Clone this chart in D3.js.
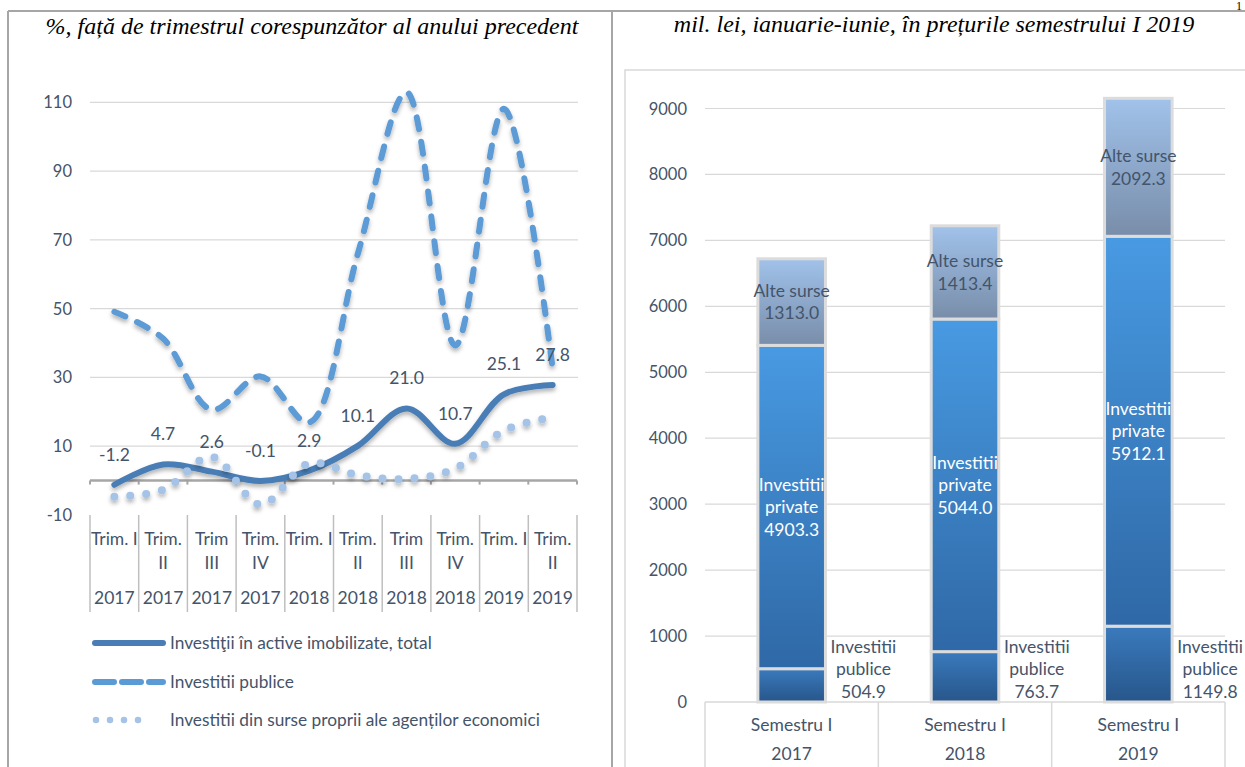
<!DOCTYPE html>
<html>
<head>
<meta charset="utf-8">
<script src="https://cdn.jsdelivr.net/npm/d3@7"></script>
<style>
    body { margin: 0; background: #fff; }
    svg { display: block; font-family: Lato, "Open Sans", sans-serif; }
    .title { font-family: "Liberation Serif", "DejaVu Serif", serif; font-style: italic; font-size: 24px; fill: #000; }
    .tick { font-size: 16.5px; fill: #44546a; }
    .lbl { font-size: 17.5px; fill: #44546a; }
    .cat { font-size: 17.5px; fill: #44546a; }
    .legend { font-size: 17.3px; fill: #44546a; }
</style>
</head>
<body>
<svg id="chart" width="1245" height="767"></svg>
<script>
    // ---- left chart: growth, % vs same quarter of previous year
    var quarterNames = ["Trim. I", "Trim.|II", "Trim|III", "Trim.|IV", "Trim. I", "Trim.|II", "Trim|III", "Trim.|IV", "Trim. I", "Trim.|II"];
    var quarterYears = ["2017", "2017", "2017", "2017", "2018", "2018", "2018", "2018", "2019", "2019"];
    var totalValues = [-1.2, 4.7, 2.6, -0.1, 2.9, 10.1, 21.0, 10.7, 25.1, 27.8];
    var publiceValues = [49.1, 41.3, 20.6, 30.3, 16.9, 66.0, 112.9, 39.3, 108.1, 32.5];
    var propriiValues = [-4.7, -2.7, 6.9, -7.0, 5.0, 1.6, 0.5, 3.5, 14.6, 18.4];
    var leftTicks = [-10, 10, 30, 50, 70, 90, 110];
    var seriesNames = ["Investiţii în active imobilizate, total", "Investitii publice", "Investitii din surse proprii ale agenților economici"];

    // ---- right chart: mil. lei, stacked
    var semesterYears = ["2017", "2018", "2019"];
    var publiceMil = [504.9, 763.7, 1149.8];
    var privateMil = [4903.3, 5044.0, 5912.1];
    var alteMil = [1313.0, 1413.4, 2092.3];
    var rightTicks = [0, 1000, 2000, 3000, 4000, 5000, 6000, 7000, 8000, 9000];

    var svg = d3.select("#chart");
    var defs = svg.append("defs");

    // soft shadow under the lines
    var sh = defs.append("filter").attr("id", "shadow")
        .attr("filterUnits", "userSpaceOnUse")
        .attr("x", 0).attr("y", 0).attr("width", 1245).attr("height", 767);
    sh.append("feDropShadow").attr("dx", 0).attr("dy", 3).attr("stdDeviation", 2)
        .attr("flood-color", "#000").attr("flood-opacity", 0.3);

    function grad(id, top, bottom) {
        var g = defs.append("linearGradient").attr("id", id)
            .attr("x1", 0).attr("y1", 0).attr("x2", 0).attr("y2", 1);
        g.append("stop").attr("offset", "0%").attr("stop-color", top);
        g.append("stop").attr("offset", "100%").attr("stop-color", bottom);
    }
    grad("gPublice", "#3a7abd", "#27568a");
    grad("gPrivate", "#489ae2", "#2f68a6");
    grad("gAlte", "#a1c2ea", "#788da9");

    // page frame
    var frame = "#a6a6a6";
    svg.append("line").attr("x1", 8).attr("x2", 1245).attr("y1", 11).attr("y2", 11).attr("stroke", frame).attr("stroke-width", 2);
    svg.append("line").attr("x1", 8).attr("x2", 8).attr("y1", 11).attr("y2", 767).attr("stroke", frame).attr("stroke-width", 2);
    svg.append("line").attr("x1", 612).attr("x2", 612).attr("y1", 11).attr("y2", 767).attr("stroke", frame).attr("stroke-width", 2);
    svg.append("text").attr("x", 1236).attr("y", 10).style("font-family", "Liberation Serif, serif")
        .style("font-size", "12px").text("1");

    svg.append("text").attr("class", "title").attr("x", 312).attr("y", 34).attr("text-anchor", "middle")
        .text("%, față  de trimestrul corespunzător al anului precedent");
    svg.append("text").attr("class", "title").attr("x", 934).attr("y", 32).attr("text-anchor", "middle")
        .text("mil. lei, ianuarie-iunie, în prețurile semestrului I 2019");

    // ================= left chart =================
    var idx = d3.range(quarterNames.length);
    var x = d3.scaleBand().domain(idx).range([90, 577]);
    var y = d3.scaleLinear().domain([-10, 110]).range([515, 102.3]);
    var L = svg.append("g");

    L.selectAll(".grid").data(leftTicks.filter(function (d) { return d > 0; })).enter().append("line")
        .attr("x1", 90).attr("x2", 578)
        .attr("y1", function (d) { return y(d); }).attr("y2", function (d) { return y(d); })
        .attr("stroke", "#d9d9d9").attr("stroke-width", 1.2);
    L.selectAll(".ytl").data(leftTicks).enter().append("text").attr("class", "tick")
        .attr("x", 72).attr("y", function (d) { return y(d) + 6; }).attr("text-anchor", "end")
        .text(function (d) { return d; });

    // category axis at zero + ticks
    var edges = d3.range(quarterNames.length + 1).map(function (i) { return 90 + i * x.step(); });
    L.append("line").attr("x1", 90).attr("x2", 577).attr("y1", y(0)).attr("y2", y(0))
        .attr("stroke", "#a6a6a6").attr("stroke-width", 2.5);
    L.selectAll(".tk").data(edges).enter().append("line")
        .attr("x1", function (d) { return d; }).attr("x2", function (d) { return d; })
        .attr("y1", y(0)).attr("y2", y(0) + 4).attr("stroke", "#a6a6a6").attr("stroke-width", 2);
    L.selectAll(".sep").data(edges).enter().append("line")
        .attr("x1", function (d) { return d; }).attr("x2", function (d) { return d; })
        .attr("y1", 515).attr("y2", 612).attr("stroke", "#bfbfbf").attr("stroke-width", 1.5);

    idx.forEach(function (i) {
        var cx = x(i) + x.bandwidth() / 2;
        var parts = quarterNames[i].split("|");
        parts.forEach(function (p, k) {
            L.append("text").attr("class", "cat").attr("x", cx).attr("y", 545 + k * 24)
                .attr("text-anchor", "middle").text(p);
        });
        L.append("text").attr("class", "cat").attr("x", cx).attr("y", 604)
            .attr("text-anchor", "middle").text(quarterYears[i]);
    });

    var line = d3.line()
        .x(function (d, i) { return x(i) + x.bandwidth() / 2; })
        .y(function (d) { return y(d); })
        .curve(d3.curveCatmullRom.alpha(0.5));

    var styles = [
        { color: "#4a7db5", width: 6, dash: null },
        { color: "#5b9bd5", width: 6, dash: "12,13" },
        { color: "#a4c3e7", width: 8, dash: "0,16" }
    ];
    [totalValues, publiceValues, propriiValues].forEach(function (vals, s) {
        L.append("path").datum(vals).attr("d", line)
            .attr("fill", "none").attr("stroke", styles[s].color)
            .attr("stroke-width", styles[s].width).attr("stroke-linecap", "round")
            .attr("stroke-dasharray", styles[s].dash)
            .attr("filter", "url(#shadow)");
    });

    L.selectAll(".dl").data(totalValues).enter().append("text").attr("class", "lbl")
        .attr("x", function (d, i) { return x(i) + x.bandwidth() / 2; })
        .attr("y", function (d) { return y(d) - 24; })
        .attr("text-anchor", "middle")
        .text(function (d) { return d.toFixed(1); });

    // legend
    var legY = [643, 682, 720];
    seriesNames.forEach(function (name, s) {
        var st = styles[s];
        L.append("line").attr("x1", s === 2 ? 96 : 95).attr("x2", s === 2 ? 152 : 163)
            .attr("y1", legY[s]).attr("y2", legY[s])
            .attr("stroke", st.color).attr("stroke-width", s === 2 ? 6.5 : 6)
            .attr("stroke-linecap", "round")
            .attr("stroke-dasharray", s === 1 ? "19,8" : (s === 2 ? "0,14" : null));
        L.append("text").attr("class", "legend").attr("x", 170).attr("y", legY[s] + 6).text(name);
    });

    // ================= right chart =================
    var R = svg.append("g");
    R.append("rect").attr("x", 625).attr("y", 70).attr("width", 700).attr("height", 760)
        .attr("fill", "none").attr("stroke", "#d9d9d9").attr("stroke-width", 1.5);

    var xb = d3.scaleBand().domain(semesterYears).range([705, 1225]);
    var yb = d3.scaleLinear().domain([0, 9000]).range([702, 108.5]);

    R.selectAll(".grid").data(rightTicks.slice(1)).enter().append("line")
        .attr("x1", 705).attr("x2", 1225)
        .attr("y1", function (d) { return yb(d); }).attr("y2", function (d) { return yb(d); })
        .attr("stroke", "#d9d9d9").attr("stroke-width", 1.2);
    R.selectAll(".ytl").data(rightTicks).enter().append("text").attr("class", "tick")
        .attr("x", 687).attr("y", function (d) { return yb(d) + 6; }).attr("text-anchor", "end")
        .text(function (d) { return d; });
    R.append("line").attr("x1", 705).attr("x2", 1225).attr("y1", yb(0)).attr("y2", yb(0))
        .attr("stroke", "#d9d9d9").attr("stroke-width", 1.5);
    var bEdges = semesterYears.map(function (d) { return xb(d); }).concat([1225]);
    R.selectAll(".sep").data(bEdges).enter().append("line")
        .attr("x1", function (d) { return d; }).attr("x2", function (d) { return d; })
        .attr("y1", yb(0)).attr("y2", 767).attr("stroke", "#d9d9d9").attr("stroke-width", 1.5);

    var barW = xb.bandwidth() * 0.39;
    semesterYears.forEach(function (yr, i) {
        var cx = xb(yr) + xb.bandwidth() / 2;
        var x0 = cx - barW / 2;
        var segs = [
            { v0: 0, v1: publiceMil[i], fill: "url(#gPublice)" },
            { v0: publiceMil[i], v1: publiceMil[i] + privateMil[i], fill: "url(#gPrivate)" },
            { v0: publiceMil[i] + privateMil[i], v1: publiceMil[i] + privateMil[i] + alteMil[i], fill: "url(#gAlte)" }
        ];
        segs.forEach(function (s) {
            R.append("rect").attr("x", x0).attr("width", barW)
                .attr("y", yb(s.v1)).attr("height", yb(s.v0) - yb(s.v1))
                .attr("fill", s.fill).attr("stroke", "#dcdcdc").attr("stroke-width", 3);
        });

        function block(lines, cxp, cyp, color) {
            var n = lines.length;
            lines.forEach(function (t, k) {
                R.append("text").attr("class", "lbl").style("fill", color)
                    .attr("x", cxp).attr("y", cyp + (k - (n - 1) / 2) * 22.5 + 6)
                    .attr("text-anchor", "middle").text(t);
            });
        }
        block(["Alte surse", alteMil[i].toFixed(1)], cx, (yb(segs[2].v0) + yb(segs[2].v1)) / 2, "#44546a");
        block(["Investitii", "private", privateMil[i].toFixed(1)], cx, (yb(segs[1].v0) + yb(segs[1].v1)) / 2, "#ffffff");
        block(["Investitii", "publice", publiceMil[i].toFixed(1)], x0 + barW + 38, yb(500), "#44546a");

        R.append("text").attr("class", "cat").attr("x", cx).attr("y", 731).attr("text-anchor", "middle").text("Semestru I");
        R.append("text").attr("class", "cat").attr("x", cx).attr("y", 760).attr("text-anchor", "middle").text(yr);
    });
</script>
</body>
</html>
